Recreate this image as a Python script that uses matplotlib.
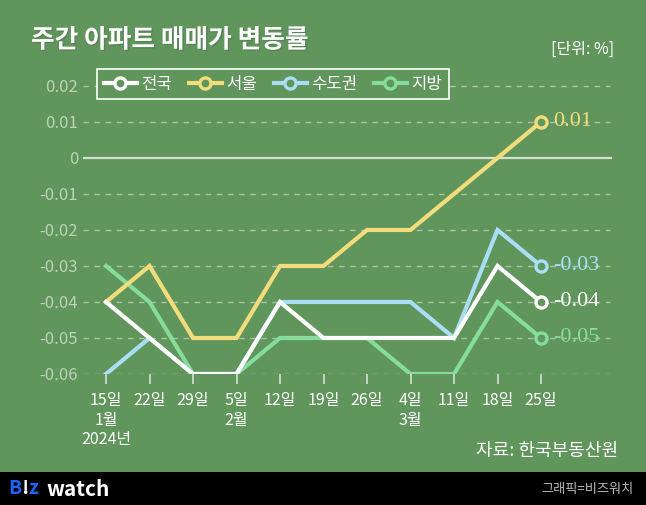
import matplotlib.pyplot as plt
import matplotlib.patheffects as pe
from matplotlib.lines import Line2D
from matplotlib.patches import Rectangle

plt.rcParams['font.family'] = ['Noto Sans CJK KR', 'DejaVu Sans']

# data
weeks = ['15일\n1월\n2024년', '22일', '29일', '5일\n2월', '12일', '19일', '26일',
         '4일\n3월', '11일', '18일', '25일']
nation = [-0.04, -0.05, -0.06, -0.06, -0.04, -0.05, -0.05, -0.05, -0.05, -0.03, -0.04]
seoul = [-0.04, -0.03, -0.05, -0.05, -0.03, -0.03, -0.02, -0.02, -0.01, 0.00, 0.01]
capital = [-0.06, -0.05, -0.06, -0.06, -0.04, -0.04, -0.04, -0.04, -0.05, -0.02, -0.03]
local = [-0.03, -0.04, -0.06, -0.06, -0.05, -0.05, -0.05, -0.06, -0.06, -0.04, -0.05]
yticks = [0.02, 0.01, 0, -0.01, -0.02, -0.03, -0.04, -0.05, -0.06]
ytick_labels = ['0.02', '0.01', '0', '-0.01', '-0.02', '-0.03', '-0.04', '-0.05', '-0.06']

bg = '#60955c'
c_nation = '#ffffff'
c_seoul = '#f3dc7c'
c_capital = '#a9def6'
c_local = '#86dc9a'
axis_col = '#bcd3b8'

W, H = 646, 505
fig = plt.figure(figsize=(W / 100, H / 100), dpi=100, facecolor=bg)

# axes placed in pixel terms
left, right, top, bottom = 83, 612, 78, 374
x0, dx = 106, 43.5
ax = fig.add_axes([left / W, (H - bottom) / H, (right - left) / W, (bottom - top) / H])
ax.set_facecolor(bg)
x = list(range(len(weeks)))
ax.set_xlim(-(x0 - left) / dx, (right - x0) / dx)
ax.set_ylim(-0.06, 0.0222)

for s in ax.spines.values():
    s.set_visible(False)

ax.set_yticks(yticks)
ax.set_yticklabels(ytick_labels)
ax.tick_params(axis='y', length=0, pad=3.5, labelsize=12, labelcolor=axis_col)
for v in yticks:
    if v == 0:
        ax.axhline(v, color='#d4e2d1', lw=1.6, zorder=1)
    else:
        ax.axhline(v, xmax=(610 - left) / (right - left), color='#a9c4a5', lw=1,
                   ls=(0, (4, 4)), zorder=1)

ax.set_xticks(x)
ax.set_xticklabels(weeks, linespacing=1.2, va='top')
ax.tick_params(axis='x', length=7, width=1.2, color='#d4e2d1', pad=6,
               labelsize=11.5, labelcolor='white')

series = [(local, c_local), (capital, c_capital), (seoul, c_seoul), (nation, c_nation)]
for vals, col in series:
    ax.plot(x, vals, color=col, lw=3, solid_joinstyle='miter', zorder=3)
    ax.plot(x[-1], vals[-1], 'o', ms=8, mfc=bg, mec=col, mew=2.4, zorder=4, clip_on=False)
    ax.text(x[-1] + 0.27, vals[-1], f'{vals[-1]:g}' if vals[-1] != 0 else '0',
            color=col, fontsize=16, family='Liberation Serif', va='center', ha='left')

# legend
handles = [Line2D([0], [0], color=c, lw=3, marker='o', ms=8, mfc=bg, mec=c, mew=2.4)
           for c in [c_nation, c_seoul, c_capital, c_local]]
leg = fig.legend(handles, ['전국', '서울', '수도권', '지방'], ncol=4,
                 loc='upper left', bbox_to_anchor=(97 / W, 1 - 69 / H), borderaxespad=0,
                 frameon=True, fancybox=False, facecolor=bg, edgecolor='white',
                 fontsize=12, handlelength=2.0, handletextpad=0.25, columnspacing=1.0,
                 borderpad=0.4, numpoints=1, framealpha=1)
leg.get_frame().set_linewidth(1.2)
for t in leg.get_texts():
    t.set_color('white')

# titles and notes
fig.text(31 / W, 1 - 40 / H, '주간 아파트 매매가 변동률', color='white', fontsize=18.5,
         fontweight='bold', va='center', ha='left',
         path_effects=[pe.withSimplePatchShadow(offset=(1, -1), alpha=0.25)])
fig.text(614 / W, 1 - 49 / H, '[단위: %]', color='white', fontsize=11.5,
         va='center', ha='right')
fig.text(618 / W, 1 - 451 / H, '자료: 한국부동산원', color='white', fontsize=13,
         fontweight='medium', va='center', ha='right')

# bottom bar
fig.patches.append(Rectangle((0, 0), 1, 33 / H, transform=fig.transFigure,
                             facecolor='black', edgecolor='none', zorder=0))
renderer = fig.canvas.get_renderer()
xpos = 8
for part, col in [('B', '#1e63ff'), ('!', 'white'), ('z', '#1e63ff')]:
    t = fig.text(xpos / W, 1 - 489 / H, part, color=col, fontsize=14, fontweight='black',
                 va='center', ha='left')
    xpos += t.get_window_extent(renderer).width
fig.text(46 / W, 1 - 489 / H, 'watch', color='white', fontsize=15, fontweight='black',
         va='center', ha='left')
fig.text(634 / W, 1 - 489 / H, '그래픽=비즈워치', color='#bbbbbb', fontsize=9.5,
         va='center', ha='right')

fig.savefig('out.png', dpi=100, facecolor=bg)
